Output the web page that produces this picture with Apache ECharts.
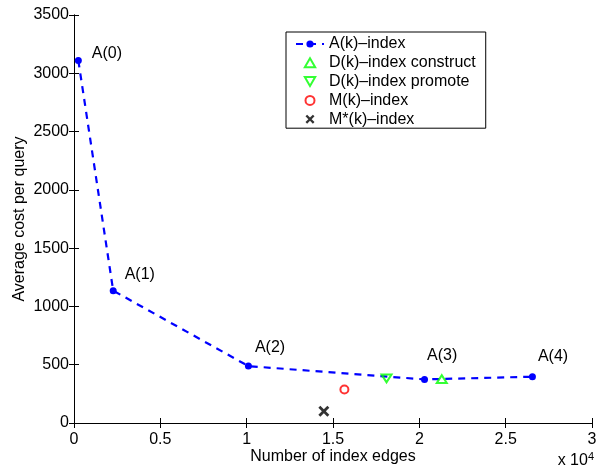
<!DOCTYPE html>
<html>
<head>
<meta charset="utf-8">
<script src="https://cdn.jsdelivr.net/npm/echarts@6/dist/echarts.min.js"></script>
<style>
html, body { margin: 0; padding: 0; background: #fff; }
#chart { width: 597px; height: 467px; }
</style>
</head>
<body>
<div id="chart"></div>
<script>
// A(k)-index family: number of index edges vs. average cost per query
var aLabels = ['A(0)', 'A(1)', 'A(2)', 'A(3)', 'A(4)'];
var aEdges = [250, 2270, 10100, 20300, 26550];
var aCost = [3110, 1135, 488, 374, 397];

var dConstructEdges = [21300];
var dConstructCost = [377];
var dPromoteEdges = [18100];
var dPromoteCost = [383];
var mEdges = [15660];
var mCost = [288];
var mStarEdges = [14470];
var mStarCost = [100];

var xTicks = [0, 0.5, 1, 1.5, 2, 2.5, 3];
var yTicks = [0, 500, 1000, 1500, 2000, 2500, 3000, 3500];

// label placement for the A(k) annotations (pixel nudges)
var aLabelNudge = [[10, -7], [8, -16], [3, -19], [-1, -24], [2, -20]];

var FONT = 'Liberation Sans, Arial, Helvetica, sans-serif';
var FS = 16;

function pairs(xs, ys) {
  return xs.map(function (x, i) { return [x, ys[i]]; });
}

var xCross = 'path://M0,1.8L1.8,0L5,3.2L8.2,0L10,1.8L6.8,5L10,8.2L8.2,10L5,6.8L1.8,10L0,8.2L3.2,5Z';
var triUp = 'path://M5,0L10,8.66L0,8.66Z';
var triDown = 'path://M0,0L10,0L5,8.66Z';

var aData = aEdges.map(function (x, i) {
  return {
    value: [x, aCost[i]],
    label: {
      show: true,
      formatter: aLabels[i],
      position: 'right',
      distance: 0,
      offset: aLabelNudge[i]
    }
  };
});

var axisText = { color: '#000', fontFamily: FONT, fontSize: FS };

var chart = echarts.init(document.getElementById('chart'), null, { renderer: 'canvas' });
chart.setOption({
  animation: false,
  backgroundColor: '#fff',
  textStyle: { fontFamily: FONT },
  grid: { left: 74, top: 15, width: 518, height: 408, containLabel: false, outerBoundsMode: 'none' },
  legend: {
    orient: 'vertical',
    left: 286,
    top: 32,
    padding: [4, 10, 1, 9],
    itemGap: 2.8,
    itemWidth: 28,
    itemHeight: 9,
    itemTextGap: 10,
    borderColor: '#000',
    borderWidth: 1,
    backgroundColor: '#fff',
    textStyle: { color: '#000', fontFamily: FONT, fontSize: FS, lineHeight: 16 },
    data: [
      'A(k)\u2013index',
      'D(k)\u2013index construct',
      'D(k)\u2013index promote',
      'M(k)\u2013index',
      'M*(k)\u2013index'
    ]
  },
  xAxis: [{
    type: 'value',
    min: 0, max: 30000, interval: 5000,
    name: 'Number of index edges',
    nameLocation: 'middle',
    nameGap: 26,
    nameMoveOverlap: false,
    nameTextStyle: axisText,
    axisLine: { show: true, lineStyle: { color: '#000', width: 1 } },
    axisTick: { show: true, inside: true, length: 5, lineStyle: { color: '#000' } },
    axisLabel: Object.assign({ margin: 9, formatter: function (v) { return String(xTicks[Math.round(v / 5000)]); } }, axisText),
    splitLine: { show: false }
  }, {
    type: 'value', position: 'top',
    min: 0, max: 30000, interval: 5000,
    axisLine: { show: true, lineStyle: { color: '#000', width: 1 } },
    axisTick: { show: true, inside: true, length: 5, lineStyle: { color: '#000' } },
    axisLabel: { show: false },
    splitLine: { show: false }
  }],
  yAxis: [{
    type: 'value',
    min: 0, max: 3500, interval: 500,
    name: 'Average cost per query',
    nameLocation: 'middle',
    nameRotate: 90,
    nameGap: 46,
    nameMoveOverlap: false,
    nameTextStyle: axisText,
    axisLine: { show: true, lineStyle: { color: '#000', width: 1 } },
    axisTick: { show: true, inside: true, length: 5, lineStyle: { color: '#000' } },
    axisLabel: Object.assign({ margin: 5, formatter: function (v) { return String(yTicks[Math.round(v / 500)]); } }, axisText),
    splitLine: { show: false }
  }, {
    type: 'value', position: 'right',
    min: 0, max: 3500, interval: 500,
    axisLine: { show: true, lineStyle: { color: '#000', width: 1 } },
    axisTick: { show: true, inside: true, length: 5, lineStyle: { color: '#000' } },
    axisLabel: { show: false },
    splitLine: { show: false }
  }],
  graphic: [{
    type: 'text',
    right: 3,
    top: 451,
    style: {
      text: 'x 10{sup|4}',
      fill: '#000',
      font: FS + 'px ' + FONT,
      rich: { sup: { fontSize: 11, fontFamily: FONT, fill: '#000', verticalAlign: 'top', padding: [0, 0, 9, 0] } }
    }
  }],
  series: [{
    name: 'A(k)\u2013index',
    type: 'line',
    data: aData,
    symbol: 'circle',
    symbolSize: 7,
    itemStyle: { color: '#0000ff' },
    lineStyle: { color: '#0000ff', width: 2.2, type: [7, 6] },
    label: { color: '#000', fontFamily: FONT, fontSize: FS },
    z: 3
  }, {
    name: 'D(k)\u2013index construct',
    type: 'scatter',
    data: pairs(dConstructEdges, dConstructCost),
    symbol: triUp,
    symbolKeepAspect: true,
    symbolSize: [10, 9],
    itemStyle: { color: 'rgba(255,255,255,0)', borderColor: '#00ff00', borderWidth: 2 },
    z: 4
  }, {
    name: 'D(k)\u2013index promote',
    type: 'scatter',
    data: pairs(dPromoteEdges, dPromoteCost),
    symbol: triDown,
    symbolKeepAspect: true,
    symbolSize: [10, 9],
    itemStyle: { color: 'rgba(255,255,255,0)', borderColor: '#00ff00', borderWidth: 2 },
    z: 4
  }, {
    name: 'M(k)\u2013index',
    type: 'scatter',
    data: pairs(mEdges, mCost),
    symbol: 'circle',
    symbolSize: 8,
    itemStyle: { color: 'rgba(255,255,255,0)', borderColor: '#ff0000', borderWidth: 2 },
    z: 4
  }, {
    name: 'M*(k)\u2013index',
    type: 'scatter',
    data: pairs(mStarEdges, mStarCost),
    symbol: xCross,
    symbolSize: 11,
    itemStyle: { color: '#000' },
    z: 4
  }]
});
</script>
</body>
</html>
